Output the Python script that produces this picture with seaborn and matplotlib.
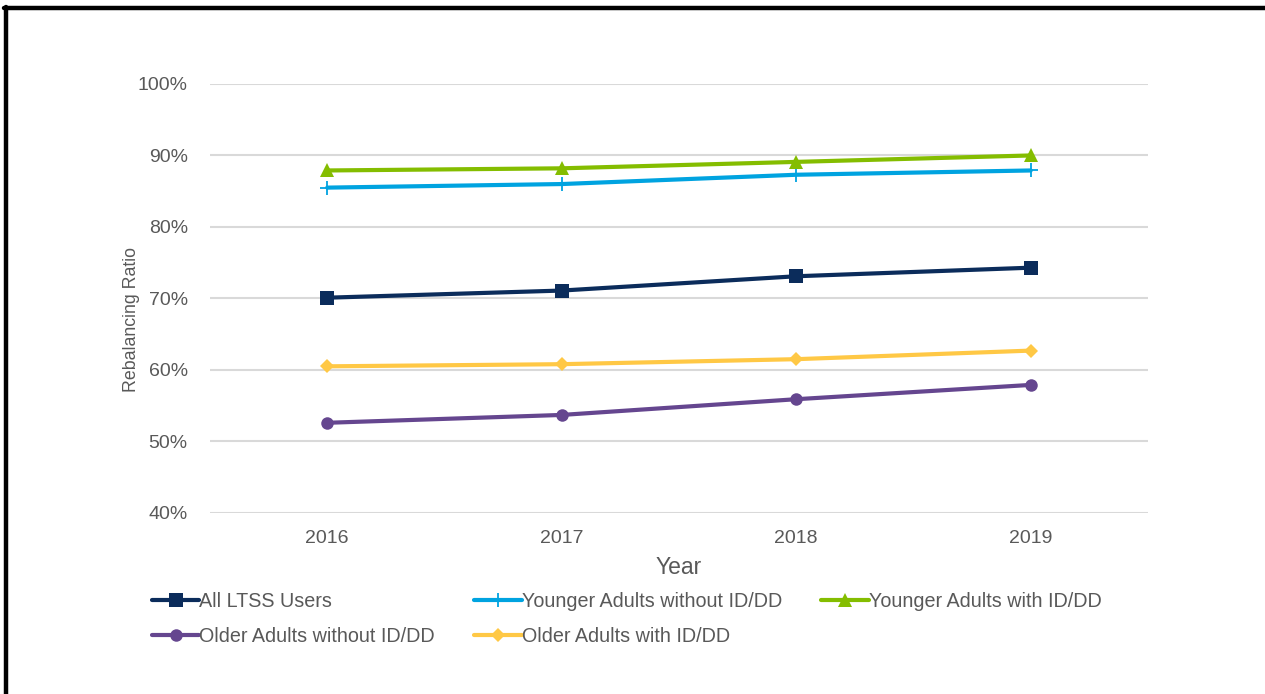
import pandas as pd
import matplotlib.pyplot as plt
import seaborn as sns
from matplotlib.ticker import PercentFormatter
from matplotlib.lines import Line2D

# values
years = ["2016", "2017", "2018", "2019"]
all_ltss = [0.701, 0.711, 0.731, 0.743]
younger_without = [0.855, 0.860, 0.873, 0.879]
younger_with = [0.879, 0.882, 0.891, 0.900]
older_without = [0.526, 0.537, 0.559, 0.579]
older_with = [0.605, 0.608, 0.615, 0.627]

series = {
    "All LTSS Users": all_ltss,
    "Younger Adults without ID/DD": younger_without,
    "Younger Adults with ID/DD": younger_with,
    "Older Adults without ID/DD": older_without,
    "Older Adults with ID/DD": older_with,
}
colors = {
    "All LTSS Users": "#0B2C5B",
    "Younger Adults without ID/DD": "#00A3E0",
    "Younger Adults with ID/DD": "#84BD00",
    "Older Adults without ID/DD": "#65468F",
    "Older Adults with ID/DD": "#FFC845",
}
markers = {
    "All LTSS Users": "s",
    "Younger Adults without ID/DD": "+",
    "Younger Adults with ID/DD": "^",
    "Older Adults without ID/DD": "o",
    "Older Adults with ID/DD": "D",
}
msizes = {"s": 9.5, "+": 10, "^": 9.5, "o": 9, "D": 7}

sns.set_style("white")
plt.rcParams["font.family"] = ["Liberation Sans", "DejaVu Sans"]
grey = "#595959"

fig = plt.figure(figsize=(12.65, 6.94), dpi=100)
ax = fig.add_axes([0.166, 0.261, 0.7415, 0.618])

for name, vals in series.items():
    m = markers[name]
    df = pd.DataFrame({"Year": years, "Ratio": vals})
    sns.lineplot(
        data=df, x="Year", y="Ratio", color=colors[name], marker=m,
        linewidth=3, markersize=msizes[m],
        markeredgewidth=1.3 if m == "+" else 0,
        markeredgecolor=colors[name],
        label=name, ax=ax
    )

handles, labels = ax.get_legend_handles_labels()
ax.get_legend().remove()

# matplotlib fills legend columns first, so reorder to get Excel's row order
order = [0, 3, 1, 4, 2]
leg = fig.legend(
    [handles[i] for i in order], [labels[i] for i in order],
    ncol=3, loc="upper left", bbox_to_anchor=(0.106, 0.172),
    frameon=False, fontsize=14.2, handlelength=2.4, handletextpad=0.0,
    columnspacing=2.0, labelspacing=0.8, labelcolor=grey
)

ax.set_ylim(0.40, 1.00)
ax.set_xlim(-0.5, 3.5)
ax.set_yticks([0.4, 0.5, 0.6, 0.7, 0.8, 0.9, 1.0])
ax.yaxis.set_major_formatter(PercentFormatter(1.0, decimals=0))
ax.grid(axis="y", color="#D9D9D9", linewidth=1.5)
ax.set_axisbelow(True)
for s in ax.spines.values():
    s.set_visible(False)
ax.tick_params(axis="both", length=0, colors=grey, labelsize=14)
ax.tick_params(axis="y", pad=16)
ax.tick_params(axis="x", pad=12)

ax.set_xlabel("Year", fontsize=16.5, color=grey, labelpad=7)
ax.set_ylabel("Rebalancing Ratio", fontsize=12.8, color=grey)
ax.yaxis.set_label_coords(-0.075, 0.452)

# black frame on top and left edge
fig.add_artist(Line2D([0.003, 1.0], [0.988, 0.988], transform=fig.transFigure,
                      color="black", linewidth=3.2))
fig.add_artist(Line2D([0.005, 0.005], [0.0, 0.99], transform=fig.transFigure,
                      color="black", linewidth=3.2))

fig.savefig("out.png", dpi=100)
